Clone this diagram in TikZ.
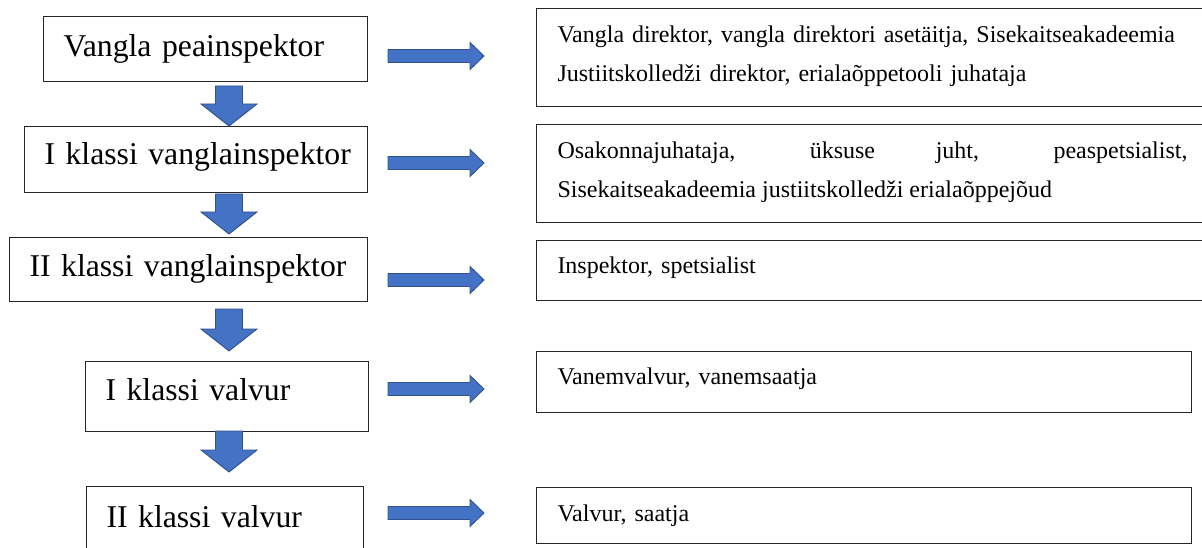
\documentclass[tikz,border=0pt]{standalone}
\usepackage{fontspec}
\setmainfont{Liberation Serif}
\usetikzlibrary{calc}
\definecolor{arrowblue}{HTML}{4472C4}
\definecolor{arrowedge}{HTML}{2F528F}
\tikzset{
  rankbox/.style={draw=black!85,line width=1pt,anchor=north west,inner xsep=20pt,inner ysep=0pt,align=left,font=\fontsize{31.7}{38}\selectfont},
  dutybox/.style={draw=black!85,line width=1pt,anchor=north west,inner xsep=21pt,inner ysep=0pt,text width=630pt,align=left,font=\fontsize{24}{39.5}\selectfont,text height=34pt},
  rankarrow/.style={fill=arrowblue,draw=arrowedge,line width=0.9pt,line join=miter}
}
\newcommand{\rankdown}[2]{%
  \path[rankarrow] let \p1=(#1), \p2=(#2) in
    (\x1-13.5pt,\y1) -- (\x1+13.5pt,\y1) -- (\x1+13.5pt,\y2+22pt)
    -- (\x1+28pt,\y2+22pt) -- (\x1,\y2) -- (\x1-28pt,\y2+22pt)
    -- (\x1-13.5pt,\y2+22pt) -- cycle;}
\newcommand{\rankright}[2]{%
  \path[rankarrow] let \p1=(#1), \p2=(#2) in
    (\x1,\y1+6.5pt) -- (\x2-14pt,\y1+6.5pt) -- (\x2-14pt,\y1+13.5pt)
    -- (\x2,\y1) -- (\x2-14pt,\y1-13.5pt) -- (\x2-14pt,\y1-6.5pt)
    -- (\x1,\y1-6.5pt) -- cycle;}

\begin{document}
\begin{tikzpicture}[x=1pt,y=-1pt]
  \useasboundingbox (0,0) rectangle (1202,548);
  \clip (0,0) rectangle (1202,548);
  % ametikohad
  \node[rankbox,text width=284pt,text height=40pt,text depth=25pt] (b1) at (43,16) {\mbox{Vangla peainspektor}};
  \node[rankbox,text width=303pt,text height=38pt,text depth=28pt] (b2) at (24,126) {\mbox{I klassi vanglainspektor}};
  \node[rankbox,text width=318pt,text height=39pt,text depth=25pt] (b3) at (9,237) {\mbox{II klassi vanglainspektor}};
  \node[rankbox,text width=243pt,text height=39pt,text depth=31pt] (b4) at (85,361) {\mbox{I klassi valvur}};
  \node[rankbox,text width=237pt,text height=41pt,text depth=80pt] (b5) at (86,486) {\mbox{II klassi valvur}};
  % ametid
  \node[dutybox,text depth=64pt] (r1) at (536,8) {Vangla direktor, vangla direktori asetäitja, Sisekaitseakadeemia\\Justiitskolledži direktor, erialaõppetooli juhataja};
  \node[dutybox,align=justify,text depth=64pt] (r2) at (536,124) {Osakonnajuhataja, üksuse juht, peaspetsialist,\linebreak Sisekaitseakadeemia justiitskolledži erialaõppejõud};
  \node[dutybox,text height=33pt,text depth=27pt] (r3) at (536,240) {Inspektor, spetsialist};
  \node[dutybox,text width=613pt,text height=33pt,text depth=28pt] (r4) at (536,351) {Vanemvalvur, vanemsaatja};
  \node[dutybox,text width=613pt,text depth=22pt] (r5) at (536,487) {Valvur, saatja};
  % nooled
  \coordinate (axis) at (229,0);
  \rankdown{$(b1.south -| axis)+(0,4)$}{b2.north -| axis}
  \rankdown{$(b2.south -| axis)+(0,1)$}{$(b3.north -| axis)+(0,-3)$}
  \rankdown{$(b3.south -| axis)+(0,7)$}{$(b4.north -| axis)+(0,-10)$}
  \rankdown{$(b4.south -| axis)+(0,-1)$}{$(b5.north -| axis)+(0,-14)$}
  \foreach \yy [count=\i] in {56,163,280,389,513}{
    \coordinate (hs\i) at (388,\yy);
    \coordinate (he\i) at (484,\yy);
    \rankright{hs\i}{he\i}
  }
\end{tikzpicture}
\end{document}
